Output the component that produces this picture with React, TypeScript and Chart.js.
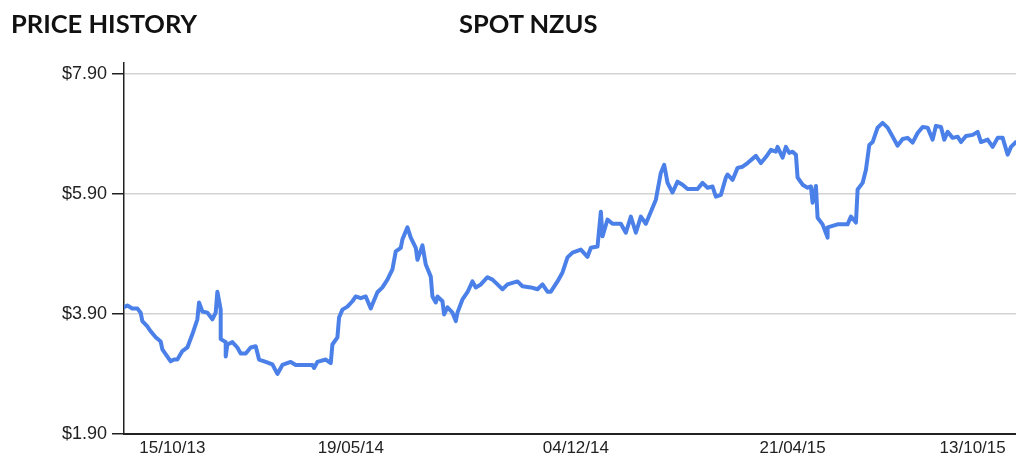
import React, { useEffect, useRef } from "react";
import { Chart, registerables } from "chart.js";

Chart.register(...registerables);

const pageTitle = "PRICE HISTORY";
const seriesTitle = "SPOT NZUS";

// trading-day index (from start of the displayed history)
const tradingDay = [
  0, 2, 5, 8, 10, 11, 14, 16, 19, 22, 23, 28, 30, 32, 35, 38, 41, 44, 45, 47,
  50, 53, 55, 56, 58, 58, 61, 61, 62, 65, 68, 70, 73, 76, 79, 81, 85, 89, 92, 95,
  100, 103, 107, 113, 114, 116, 121, 124, 125, 128, 129, 131, 134, 137, 139, 142, 145, 148, 149, 152,
  155, 158, 161, 163, 166, 167, 170, 172, 175, 176, 179, 181, 184, 185, 187, 188, 191, 192, 194, 197,
  199, 200, 203, 206, 209, 211, 214, 218, 221, 224, 227, 230, 236, 239, 244, 248, 251, 254, 256, 260,
  263, 266, 269, 274, 278, 280, 284, 286, 287, 290, 293, 298, 301, 304, 307, 310, 313, 316, 319, 322,
  324, 326, 329, 332, 335, 338, 344, 347, 350, 353, 355, 358, 361, 362, 365, 368, 371, 374, 379, 382,
  385, 388, 391, 392, 395, 397, 399, 401, 403, 404, 407, 410, 412, 413, 415, 416, 419, 422, 422, 428,
  434, 436, 439, 440, 443, 445, 447, 449, 452, 455, 458, 461, 464, 467, 470, 473, 476, 479, 482, 485,
  487, 490, 492, 494, 497, 500, 502, 505, 509, 512, 514, 518, 521, 524, 527, 530, 532, 535,
];

// spot NZU price (NZD)
const spotPrice = [
  4.01, 4.04, 3.99, 3.99, 3.92, 3.78, 3.69, 3.61, 3.51, 3.44, 3.31, 3.11, 3.14, 3.14, 3.28, 3.34, 3.56, 3.81, 4.09, 3.94,
  3.92, 3.81, 3.92, 4.27, 3.97, 3.48, 3.43, 3.19, 3.39, 3.43, 3.34, 3.24, 3.24, 3.34, 3.36, 3.14, 3.10, 3.06, 2.90, 3.05,
  3.10, 3.05, 3.05, 3.05, 3.00, 3.10, 3.14, 3.08, 3.39, 3.51, 3.84, 3.97, 4.02, 4.11, 4.19, 4.16, 4.19, 3.99, 4.06, 4.26,
  4.34, 4.47, 4.64, 4.94, 5.00, 5.14, 5.34, 5.17, 5.00, 4.80, 5.04, 4.72, 4.52, 4.19, 4.09, 4.19, 4.11, 3.89, 4.01, 3.92,
  3.78, 3.92, 4.14, 4.26, 4.44, 4.34, 4.39, 4.51, 4.47, 4.39, 4.31, 4.39, 4.44, 4.36, 4.34, 4.31, 4.39, 4.27, 4.27, 4.44,
  4.59, 4.84, 4.92, 4.97, 4.85, 5.00, 5.02, 5.60, 5.19, 5.47, 5.40, 5.40, 5.25, 5.52, 5.25, 5.52, 5.40, 5.60, 5.80, 6.25,
  6.38, 6.08, 5.92, 6.10, 6.05, 5.98, 5.98, 6.08, 6.00, 6.02, 5.85, 5.88, 6.17, 6.22, 6.13, 6.33, 6.35, 6.41, 6.53, 6.41,
  6.51, 6.63, 6.60, 6.68, 6.50, 6.68, 6.58, 6.60, 6.55, 6.17, 6.05, 6.00, 6.02, 5.75, 6.03, 5.50, 5.39, 5.17, 5.34, 5.39,
  5.39, 5.52, 5.42, 5.97, 6.08, 6.30, 6.71, 6.76, 7.00, 7.08, 7.00, 6.85, 6.70, 6.81, 6.83, 6.75, 6.91, 7.01, 7.00, 6.80,
  7.03, 7.01, 6.80, 6.93, 6.83, 6.85, 6.76, 6.86, 6.88, 6.93, 6.76, 6.80, 6.68, 6.83, 6.83, 6.55, 6.68, 6.76,
];

const xTickDays = [29, 136, 271, 401, 509];
const xTickLabels = ["15/10/13", "19/05/14", "04/12/14", "21/04/15", "13/10/15"];
const yTickValues = [1.9, 3.9, 5.9, 7.9];

const Y_MIN = 1.9;
const Y_MAX = 8.076;
const X_MIN = 0;
const X_MAX = 535;

export default function App() {
  const canvasRef = useRef<HTMLCanvasElement | null>(null);

  useEffect(() => {
    const canvas = canvasRef.current;
    if (!canvas) return;
    const points = tradingDay.map((d, i) => ({ x: d, y: spotPrice[i] }));
    const chart = new Chart(canvas, {
      type: "line",
      data: {
        datasets: [
          {
            label: seriesTitle,
            data: points,
            borderColor: "#4a80e8",
            borderWidth: 4,
            pointRadius: 0,
            tension: 0,
            fill: false,
            borderJoinStyle: "round",
            borderCapStyle: "round",
          },
        ],
      },
      options: {
        responsive: false,
        animation: false,
        layout: { padding: { top: 63, left: 0, right: 0, bottom: 0 } },
        plugins: {
          legend: { display: false },
          tooltip: { enabled: false },
          title: { display: false },
        },
        scales: {
          x: {
            type: "linear",
            min: X_MIN,
            max: X_MAX,
            grid: { display: false, drawTicks: false },
            border: { display: true, color: "#222", width: 2 },
            afterBuildTicks: (scale: any) => {
              scale.ticks = xTickDays.map((v) => ({ value: v }));
            },
            afterFit: (scale: any) => {
              scale.height = 20;
            },
            ticks: {
              autoSkip: false,
              maxRotation: 0,
              minRotation: 0,
              padding: 4,
              color: "#222",
              font: { family: "Liberation Sans, Arial, sans-serif", size: 17 },
              callback: (value: any) => {
                const i = xTickDays.indexOf(Number(value));
                return i >= 0 ? xTickLabels[i] : "";
              },
            },
          },
          y: {
            type: "linear",
            min: Y_MIN,
            max: Y_MAX,
            afterBuildTicks: (scale: any) => {
              scale.ticks = yTickValues.map((v) => ({ value: v }));
            },
            afterFit: (scale: any) => {
              scale.width = 124;
            },
            grid: {
              display: true,
              drawOnChartArea: true,
              drawTicks: true,
              tickLength: 12,
              lineWidth: 1.5,
              tickWidth: 1.5,
              tickColor: "#222",
              color: (ctx: any) =>
                ctx.tick && Math.abs(ctx.tick.value - Y_MIN) < 1e-6 ? "rgba(0,0,0,0)" : "#d2d2d2",
            },
            border: { display: true, color: "#222", width: 1.5 },
            ticks: {
              padding: 5,
              color: "#222",
              font: { family: "Liberation Sans, Arial, sans-serif", size: 18 },
              callback: (value: any) => "$" + Number(value).toFixed(2),
            },
          },
        },
      },
    });
    return () => chart.destroy();
  }, []);

  const titleStyle: React.CSSProperties = {
    position: "absolute",
    top: 11,
    fontFamily: "Lato, sans-serif",
    fontWeight: 700,
    fontSize: 25.5,
    lineHeight: "25px",
    color: "#111",
    whiteSpace: "nowrap",
  };

  return (
    <div
      style={{
        position: "absolute",
        left: 0,
        top: 0,
        width: 1016,
        height: 454,
        background: "#fff",
        overflow: "hidden",
      }}
    >
      <canvas ref={canvasRef} width={1016} height={454} style={{ display: "block" }} />
      <div style={{ ...titleStyle, left: 11 }}>{pageTitle}</div>
      <div style={{ ...titleStyle, left: 459 }}>{seriesTitle}</div>
    </div>
  );
}
